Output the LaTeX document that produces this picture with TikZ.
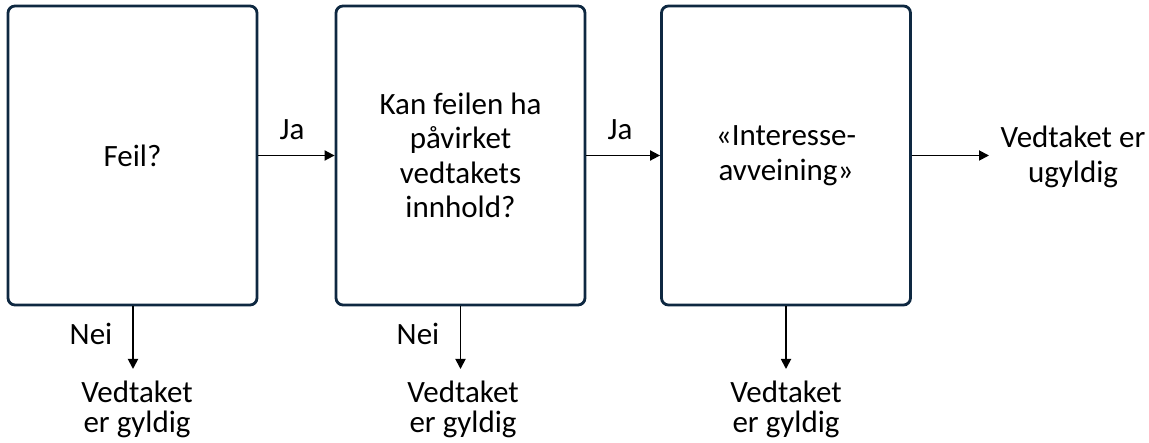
\documentclass[tikz,border=0pt]{standalone}
\usepackage{fontspec}
\setmainfont{Carlito}
\usetikzlibrary{arrows.meta}
\definecolor{boxline}{HTML}{0E2841}
\tikzset{
  stepbox/.style={draw=boxline, line width=2.8pt, rounded corners=7pt, minimum width=249pt, minimum height=299pt, inner sep=0pt, align=center, font=\fontsize{31}{34.5}\selectfont},
  lbl/.style={inner sep=0pt, align=center, font=\fontsize{31}{34.5}\selectfont},
  lowlbl/.style={inner sep=0pt, align=center, font=\fontsize{31}{30}\selectfont},
  arr/.style={line width=1.8pt, -{Triangle[length=10pt,width=10pt]}}
}
\begin{document}
\begin{tikzpicture}[x=1pt,y=-1pt]
\useasboundingbox (0,0) rectangle (1149,443);
\node[stepbox] (b1) at (132.5,155.5) {Feil?};
\node[stepbox] (b2) at (460.5,155.5) {Kan feilen ha\\påvirket\\vedtakets\\innhold?};
\node[stepbox] (b3) at (786,155.5) {«Interesse-\\avveining»};
\node[lbl] (ug) at (1073,157) {Vedtaket er\\ugyldig};
\coordinate (e0) at (989,155.5);
\draw[arr] (b1) -- (b2);
\draw[arr] (b2) -- (b3);
\draw[arr] (b3.east) -- (e0);
\node[lbl, anchor=base] (ja1) at (292,140) {Ja};
\node[lbl, anchor=base] (ja2) at (620,140) {Ja};
\coordinate (e1) at (133,369);
\coordinate (e2) at (460.5,369);
\coordinate (e3) at (786,369);
\draw[arr] (b1.south -| e1) -- (e1);
\draw[arr] (b2.south) -- (e2);
\draw[arr] (b3.south) -- (e3);
\node[lowlbl] (g1) at (137,409) {Vedtaket\\er gyldig};
\node[lowlbl] (g2) at (463,409) {Vedtaket\\er gyldig};
\node[lowlbl] (g3) at (786,409) {Vedtaket\\er gyldig};
\node[lbl, anchor=base] (n1) at (91,345) {Nei};
\node[lbl, anchor=base] (n2) at (418,345) {Nei};
\end{tikzpicture}
\end{document}
